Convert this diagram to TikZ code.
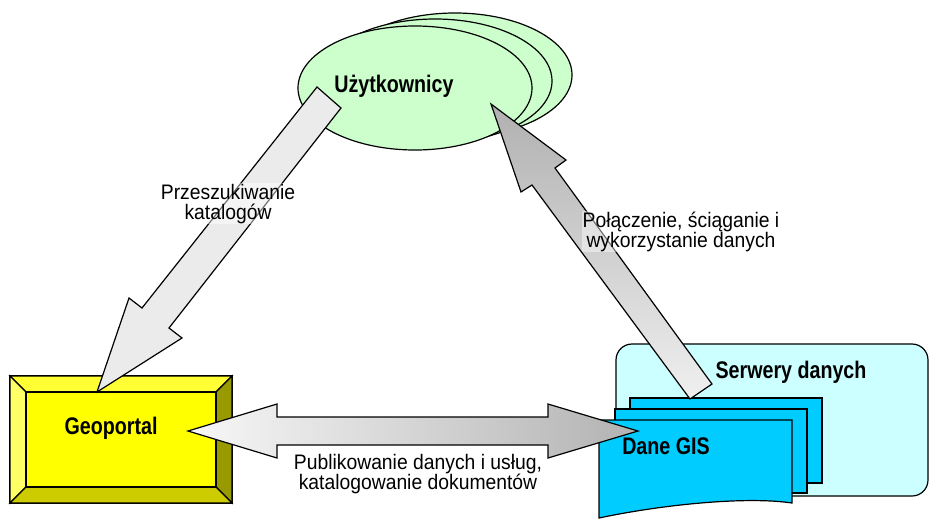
\documentclass[tikz,border=0pt]{standalone}
\usepackage{fontspec}
\setmainfont{Liberation Sans}
\newfontfamily\lblfont[FakeStretch=0.92]{Liberation Sans}
\newfontfamily\ttlfont[FakeStretch=0.82]{Liberation Sans}
\usetikzlibrary{shapes.geometric}
\definecolor{ellfill}{HTML}{CCFFCC}
\definecolor{srvfill}{HTML}{CCFFFF}
\definecolor{docfill}{HTML}{00CCFF}
\definecolor{geocenter}{HTML}{FFFF00}
\definecolor{geotop}{HTML}{FFFF33}
\definecolor{geoleft}{HTML}{FFFF66}
\definecolor{geobottom}{HTML}{CCCC00}
\definecolor{georight}{HTML}{999900}
\definecolor{arrowlight}{HTML}{EBEBEB}
\tikzset{
  ell/.style={ellipse, draw, fill=ellfill, minimum width=234pt, minimum height=124pt, inner sep=0pt},
  ttl/.style={font=\ttlfont\bfseries\fontsize{24}{24}\selectfont, inner sep=0pt},
  lbl/.style={font=\lblfont\fontsize{21}{20}\selectfont, align=center, fill=white, fill opacity=0.45, text opacity=1, inner sep=1pt},
  blockarrow/.style={draw, line join=miter},
  docbox/.style={draw, fill=docfill, inner sep=0pt},
}
\begin{document}
\begin{tikzpicture}[x=1pt,y=-1pt, line width=1.2pt]
\useasboundingbox (0,0) rectangle (929,520);

% Users: stacked ellipses
\node[ell] (u3) at (455,75) {};
\node[ell] (u2) at (435,81) {};
\node[ell] (u1) at (415,88) {};

% Data servers
\node[draw, fill=srvfill, rounded corners=16pt, minimum width=312pt, minimum height=152pt, inner sep=0pt] (srv) at (772,420) {};

% GIS data documents
\node[docbox, minimum width=192pt, minimum height=85pt] (d3) at (726,440.5) {};
\node[docbox, minimum width=192pt, minimum height=84pt] (d2) at (711,451) {};
\draw[fill=docfill] (599,420) coordinate (d1) -- (792,420) -- (792,503)
   .. controls (745,496) and (660,505) .. (599,518) -- cycle;

% Geoportal bevelled box
\node[draw, fill=geocenter, minimum width=222pt, minimum height=127pt, inner sep=0pt] (geo) at (121,439.5) {};
\coordinate (go1) at (10,376); \coordinate (go2) at (232,376);
\coordinate (go3) at (232,503); \coordinate (go4) at (10,503);
\coordinate (gi1) at (26,392); \coordinate (gi2) at (216,392);
\coordinate (gi3) at (216,487); \coordinate (gi4) at (26,487);
\draw[fill=geotop] (go1) -- (go2) -- (gi2) -- (gi1) -- cycle;
\draw[fill=geoleft] (go1) -- (gi1) -- (gi4) -- (go4) -- cycle;
\draw[fill=georight] (go2) -- (go3) -- (gi3) -- (gi2) -- cycle;
\draw[fill=geobottom] (go4) -- (go3) -- (gi3) -- (gi4) -- cycle;
\draw[fill=geocenter] (gi1) rectangle (gi3);

% Arrow: data -> users
\draw[blockarrow, top color=gray!62, bottom color=gray!12]
  (690,399) -- (532,185) -- (521,192) -- (491,104) -- (566,160) -- (555,168) -- (712,384) -- cycle;

% Arrow: users -> geoportal
\draw[blockarrow, fill=arrowlight]
  (317,87) -- (142,308) -- (129,298) -- (97,392) -- (182,338) -- (169,328) -- (341,108) -- cycle;

% Double arrow: geoportal <-> data
\draw[blockarrow, left color=gray!6, right color=gray!60]
  (188,431) -- (277,404) -- (277,417) -- (548,417) -- (548,404) -- (638,431)
  -- (548,458) -- (548,445) -- (277,445) -- (277,458) -- cycle;

% Titles
\node[ttl, anchor=base] (tu) at (394,92) {Użytkownicy};
\node[ttl, anchor=base] (tg) at (111,434) {Geoportal};
\node[ttl, anchor=base] (ts) at (791,378) {Serwery danych};
\node[ttl, anchor=base] (td) at (666,454) {Dane GIS};

% Labels (base anchor = baseline of the last line)
\node[lbl, anchor=base] (l1) at (228,219) {Przeszukiwanie\\katalogów};
\node[lbl, anchor=base] (l2) at (681,247) {Połączenie, ściąganie i\\wykorzystanie danych};
\node[lbl, anchor=base] (l3) at (418,489) {Publikowanie danych i usług,\\katalogowanie dokumentów};
\end{tikzpicture}
\end{document}
